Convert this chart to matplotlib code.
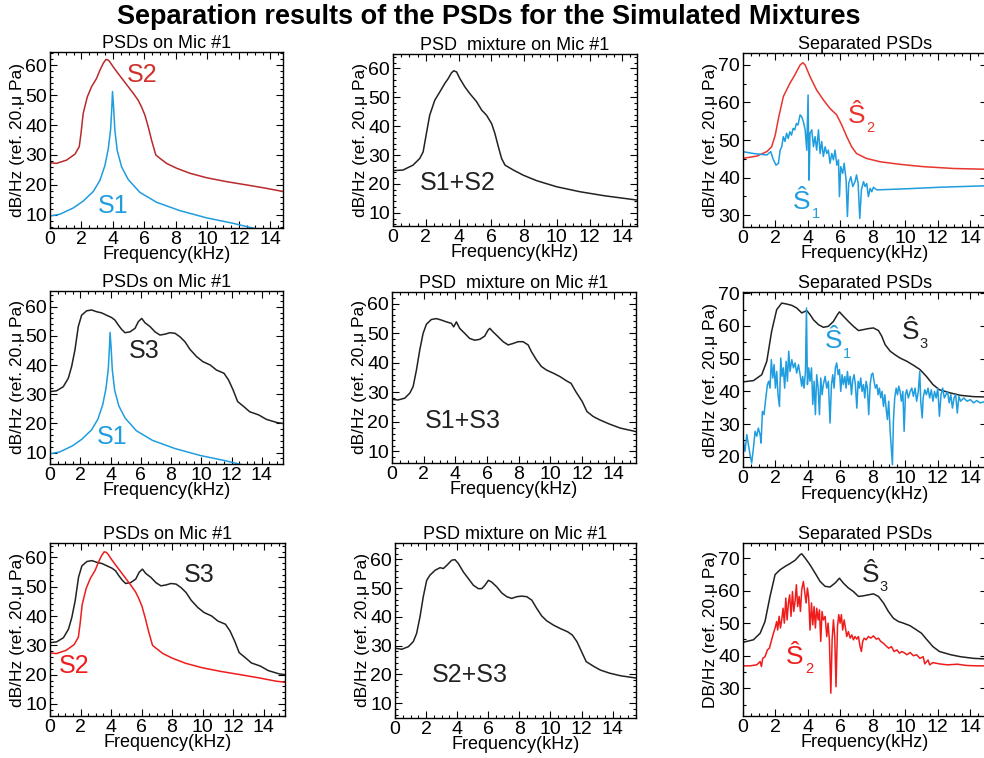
import matplotlib
matplotlib.use("Agg")
import matplotlib.pyplot as plt
import numpy as np
from matplotlib.ticker import MultipleLocator

plt.rcParams['font.family'] = ['Liberation Sans', 'DejaVu Sans']

# ---- data (kHz, dB) ----
# S1 : pure tone source on Mic #1
s1_freq = [0, 0.63, 1.48, 2.11, 2.75, 3.17, 3.49, 3.7, 3.85, 3.93, 3.97, 4.04, 4.12,
           4.27, 4.55, 4.97, 5.71, 6.77, 8.25, 9.94, 11.6, 12.8, 13.7, 15.4]
s1_db = [9.6, 10.2, 12.3, 14.6, 17.8, 21.5, 26.5, 32, 38.5, 46, 51.2, 46, 38.3,
         31.5, 26, 21.8, 17.5, 14.2, 11.4, 9.0, 7.2, 5.7, 4.6, 3.5]

# S2 : source 2 on Mic #1
s2_freq = [0, 0.42, 1.06, 1.59, 1.86, 1.97, 2.11, 2.37, 2.64, 2.96, 3.17, 3.38, 3.55, 3.7,
           3.8, 4.02, 4.33, 4.65, 4.97, 5.29, 5.6, 5.81, 6.03, 6.24, 6.45, 6.72, 6.98,
           7.4, 8.03, 8.88, 9.94, 11.2, 12.7, 13.7, 14.8, 15.4]
s2_db = [27.4, 27.2, 28.3, 30.3, 32.8, 37.2, 43.9, 49.4, 52.8, 55.6, 58.3, 60.6, 61.9, 61.7,
         61.1, 59.4, 57.2, 55, 52.8, 50.6, 48.3, 46.1, 43.3, 39.4, 35, 30, 28.9,
         27.2, 25.6, 23.9, 22.4, 21.1, 19.8, 18.9, 17.8, 17.4]

# S3 : source 3 on Mic #1
s3_freq = [0, 0.44, 0.88, 1.21, 1.43, 1.65, 1.87, 2.09, 2.42, 2.75, 3.08, 3.41, 3.74, 4.07,
           4.3, 4.52, 4.74, 4.96, 5.29, 5.62, 5.84, 6.06, 6.28, 6.61, 6.94, 7.27, 7.6,
           7.93, 8.26, 8.59, 8.92, 9.25, 9.69, 10.1, 10.6, 11.0, 11.5, 11.8, 12.1, 12.4,
           12.8, 13.2, 13.8, 14.3, 15.0, 15.4]
s3_db = [30.9, 31.2, 32.6, 35.5, 39.5, 45.2, 53.2, 57.1, 58.6, 58.9, 58.3, 57.9, 57.1, 56.3,
         55.4, 53.7, 52.2, 51.1, 51.4, 52.6, 54.9, 56, 54.5, 53.2, 51.4, 50.3, 50.6,
         51.1, 50.9, 49.7, 48, 45.4, 42.9, 41.2, 40, 38.3, 37.2, 34.9, 31.5, 27.5,
         25.8, 24, 22.9, 21.4, 20.3, 20]

# mixtures on Mic #1
mix12_freq = [0, 0.61, 1.22, 1.63, 1.84, 2.04, 2.24, 2.55, 2.86, 3.16, 3.37, 3.57, 3.71,
              3.88, 4.08, 4.39, 4.69, 5.1, 5.41, 5.71, 6.02, 6.22, 6.43, 6.63, 6.84, 7.35,
              7.96, 8.78, 10.0, 11.4, 12.9, 14.1, 14.9]
mix12_db = [24.6, 24.8, 26.5, 28.8, 31.1, 37.5, 43.8, 49, 51.9, 54.8, 56.5, 58.5, 59.2,
            58.8, 56.5, 53.6, 51.3, 48.5, 45.6, 43.8, 40.9, 37.5, 32.9, 28.8, 26.5, 24.8,
            23, 21.1, 19, 17.3, 15.9, 15, 14.4]

mix13_freq = [0, 0.38, 0.8, 1.12, 1.33, 1.54, 1.75, 1.96, 2.17, 2.48, 2.8, 3.12, 3.43, 3.75,
              3.89, 4.06, 4.27, 4.59, 4.9, 5.22, 5.54, 5.85, 6.06, 6.17, 6.38, 6.69, 7.01,
              7.33, 7.64, 7.96, 8.27, 8.59, 8.8, 9.12, 9.43, 9.75, 10.2, 10.6, 11.0, 11.3,
              11.6, 12.0, 12.3, 12.7, 13.1, 13.7, 14.4, 15.4]
mix13_db = [27.6, 27.4, 28, 29.7, 31.9, 37.5, 44.3, 49.9, 53, 54.6, 54.9, 54.4, 53.8, 53.3,
            52.1, 53.8, 51.6, 49.9, 48.2, 47.6, 47.9, 49, 51, 51.6, 50.4, 48.8, 47.1,
            46, 46.5, 47.1, 47.1, 46, 43.7, 40.9, 38.7, 37.5, 36.4, 35.3, 33.9, 33,
            30.2, 26.9, 23.5, 21.8, 20.7, 19.3, 17.9, 16.7]

mix23_freq = [0, 0.43, 0.86, 1.18, 1.39, 1.61, 1.82, 2.04, 2.25, 2.58, 2.9, 3.11, 3.33, 3.65,
              3.86, 4.08, 4.4, 4.72, 5.04, 5.36, 5.58, 5.79, 6.01, 6.22, 6.55, 6.87, 7.19,
              7.51, 7.83, 8.15, 8.48, 8.8, 9.12, 9.44, 9.76, 10.2, 10.6, 11.1, 11.4, 11.7,
              12.0, 12.3, 12.8, 13.2, 13.8, 14.5, 15.5]
mix23_db = [29.1, 28.7, 29.6, 31.4, 34.2, 40, 47, 52.7, 54.5, 56.2, 57.1, 56.8, 57.9, 59.7,
            59.9, 58.5, 55.6, 53.3, 51, 49.8, 49.8, 51, 52.7, 52.1, 50.4, 48.3, 47,
            46.4, 47, 47.2, 47, 45.8, 42.9, 40.3, 38.6, 37.1, 36, 34.8, 33.7, 31.4,
            27.9, 24.4, 22.7, 21.5, 20.4, 19.5, 18.7]

# separated PSDs, mixture S1+S2
sep12_s2_freq = [0, 0.86, 1.48, 1.78, 2.0, 2.2, 2.5, 2.9, 3.2, 3.53, 3.7, 3.84, 4.14, 4.55,
                 4.96, 5.37, 5.78, 6.09, 6.4, 6.7, 7.0, 7.6, 8.45, 9.7, 11.1, 13.0, 15.0]
sep12_s2_db = [45.1, 45.7, 46.9, 48.2, 51.3, 55.8, 61.6, 65.1, 67.3, 70.0, 70.6, 70, 66.9,
               63.3, 60.7, 58.4, 56.7, 54, 50.9, 48.2, 46.4, 45.1, 44.2, 43.5, 42.9, 42.4,
               42.2]
sep12_s1_freq = [0, 0.66, 1.48, 1.72, 1.89, 2.05, 2.2, 2.3, 2.4, 2.5, 2.6, 2.7, 2.8, 2.9,
                 3.0, 3.1, 3.2, 3.3, 3.4, 3.53, 3.63, 3.73, 3.84, 3.94, 4.02, 4.08, 4.14,
                 4.25, 4.35, 4.45, 4.55, 4.66, 4.76, 4.86, 4.96, 5.07, 5.17, 5.27, 5.37,
                 5.48, 5.58, 5.68, 5.79, 5.89, 5.95, 6.03, 6.15, 6.24, 6.36, 6.44, 6.52,
                 6.65, 6.77, 6.91, 7.0, 7.1, 7.2, 7.3, 7.43, 7.53, 7.63, 7.73, 7.84, 7.94,
                 8.04, 8.25, 10.1, 12.1, 15.0]
sep12_s1_db = [46.9, 46.4, 46, 46.9, 44.7, 43.3, 43.8, 47.3, 48.2, 50.9, 49.6, 51.8, 50.4,
               52.2, 51.3, 53.1, 52.7, 54.4, 54, 56.7, 56.2, 54.9, 52.7, 47.3, 62, 39.3,
               51.8, 52.7, 48.2, 50.9, 47.3, 52.7, 46.4, 49.6, 45.6, 48.2, 46.4, 47.3,
               43.8, 46.4, 44.7, 47.3, 43.3, 44.7, 34.9, 42.9, 41.1, 43.8, 39.3, 29.6,
               38.4, 40.2, 37.6, 38.9, 40.7, 38.4, 29.1, 36.7, 38.9, 37.6, 38.4, 34.9,
               37.1, 36.2, 37.4, 36.7, 37, 37.4, 37.8]

# separated PSDs, mixture S1+S3
sep13_s3_freq = [0, 0.66, 1.17, 1.48, 1.78, 2.09, 2.4, 2.71, 3.02, 3.32, 3.63, 3.94, 4.14,
                 4.35, 4.66, 4.96, 5.27, 5.58, 5.83, 5.95, 6.19, 6.5, 6.81, 7.12, 7.43,
                 7.73, 8.04, 8.35, 8.55, 8.76, 9.07, 9.37, 9.68, 10.1, 10.5, 10.9, 11.3,
                 11.7, 12.1, 12.8, 13.4, 14.2, 15.0]
sep13_s3_db = [42.9, 43.3, 45.1, 49.2, 58.4, 65, 67, 66.7, 66.3, 65.5, 64, 64.7, 63.5,
               61.9, 60.4, 59.6, 59.9, 61.4, 63.5, 64.3, 63, 61.4, 59.9, 58.6, 58.9,
               59.2, 59.4, 58.6, 56.9, 54.3, 52.3, 51.2, 50.2, 49.2, 48, 46.7, 44.6,
               42.1, 40.5, 39.5, 38.8, 38.4, 38.3]
sep13_s1_freq = [0, 0.14, 0.25, 0.35, 0.45, 0.55, 0.66, 0.76, 0.86, 0.96, 1.07, 1.13, 1.21,
                 1.31, 1.42, 1.52, 1.6, 1.68, 1.76, 1.85, 1.93, 2.01, 2.09, 2.17, 2.26,
                 2.34, 2.42, 2.5, 2.58, 2.67, 2.75, 2.83, 2.91, 3.02, 3.12, 3.22, 3.32,
                 3.43, 3.53, 3.63, 3.69, 3.77, 3.86, 3.92, 3.98, 4.06, 4.14, 4.23, 4.31,
                 4.39, 4.47, 4.55, 4.64, 4.72, 4.8, 4.88, 4.96, 5.07, 5.17, 5.27, 5.37,
                 5.46, 5.54, 5.62, 5.7, 5.78, 5.87, 5.95, 6.03, 6.11, 6.19, 6.28, 6.36,
                 6.44, 6.52, 6.61, 6.69, 6.77, 6.85, 6.93, 7.02, 7.1, 7.18, 7.26, 7.34,
                 7.43, 7.51, 7.59, 7.67, 7.75, 7.84, 7.92, 8.0, 8.08, 8.16, 8.25, 8.33,
                 8.41, 8.49, 8.57, 8.66, 8.74, 8.82, 8.9, 8.98, 9.07, 9.15, 9.21, 9.27,
                 9.35, 9.44, 9.52, 9.6, 9.68, 9.76, 9.85, 9.93, 10.01, 10.09, 10.19, 10.3,
                 10.4, 10.5, 10.6, 10.7, 10.8, 10.89, 10.95, 11.04, 11.1, 11.2, 11.3, 11.4,
                 11.5, 11.6, 11.7, 11.8, 11.9, 12.0, 12.1, 12.2, 12.3, 12.4, 12.6, 12.7,
                 12.8, 12.9, 13.0, 13.1, 13.2, 13.3, 13.4, 13.6, 13.8, 14.0, 14.2, 14.4,
                 14.6, 15.0]
sep13_s1_db = [25.8, 21.7, 26.8, 23.7, 20.7, 18.1, 22.7, 27.8, 26.3, 28.8, 26.8, 24.2, 33.9,
               32.9, 38, 42.1, 43.1, 41, 49.7, 44.1, 48.2, 41, 46.1, 39, 35.4,
               50.2, 44.6, 47.2, 41, 49.2, 43.1, 52.3, 46.1, 49.7, 47.2, 48.7, 45.6,
               48.2, 45.1, 41.6, 44.6, 41, 46.1, 65.5, 42.1, 47.2, 43.1, 47.2, 36,
               43.1, 32.9, 45.1, 41, 32.9, 44.1, 39, 42.1, 44.6, 41, 43.1, 30.3,
               42.1, 45.1, 41, 47.2, 48.7, 45.1, 46.7, 40, 45.1, 42.1, 44.6, 41,
               46.1, 42.1, 44.6, 39, 43.6, 45.1, 42.1, 34.9, 43.1, 41, 44.1, 40,
               42.1, 38, 43.1, 41, 32.9, 42.1, 45.1, 45.6, 43.1, 41, 42.1, 39,
               41, 38, 40, 35.4, 39, 34.9, 31.4, 37, 27.8, 21.7, 17.6, 30.9,
               38, 41, 39, 41.6, 40, 37, 40, 27.8, 39, 40.5, 38, 40,
               41, 38.5, 41, 37, 40, 46.1, 37, 31.9, 38, 40.5, 39, 41,
               38, 40.5, 37, 40, 38, 41, 32.4, 39, 41, 38, 40, 36.5,
               39, 34.9, 38, 39, 33.4, 38.5, 37, 38, 37, 37.5, 36.5, 37.2,
               36.5, 37]

# separated PSDs, mixture S2+S3
sep23_s3_freq = [0, 0.66, 1.07, 1.37, 1.68, 1.99, 2.3, 2.6, 2.91, 3.22, 3.53, 3.63, 3.84,
                 4.14, 4.45, 4.76, 5.07, 5.37, 5.68, 5.95, 6.19, 6.5, 6.81, 7.12, 7.43,
                 7.73, 8.04, 8.35, 8.66, 8.96, 9.27, 9.58, 9.89, 10.3, 10.7, 11.0, 11.3,
                 11.7, 12.1, 12.8, 13.4, 14.2, 15.0]
sep23_s3_db = [44.1, 44.9, 46.9, 50.5, 58.2, 64.9, 66.4, 67.4, 68.3, 69.3, 71, 71.3, 70,
               67.9, 65.4, 62.8, 61.3, 61.1, 62.3, 63.8, 62.3, 60.8, 59.7, 58.2, 58.4,
               58.7, 59, 58.2, 56.2, 53.6, 51.5, 50.5, 50, 49.2, 47.9, 46.9, 45.1,
               42.8, 41.3, 40.3, 39.7, 39.2, 39]
sep23_s2_freq = [0, 0.45, 0.86, 1.07, 1.15, 1.23, 1.37, 1.52, 1.64, 1.78, 1.89, 1.99, 2.09,
                 2.15, 2.24, 2.32, 2.4, 2.48, 2.56, 2.65, 2.73, 2.81, 2.89, 2.97, 3.06,
                 3.14, 3.22, 3.3, 3.38, 3.47, 3.55, 3.63, 3.73, 3.82, 3.9, 3.98, 4.06,
                 4.14, 4.23, 4.31, 4.39, 4.47, 4.55, 4.64, 4.72, 4.8, 4.88, 4.96, 5.07,
                 5.17, 5.25, 5.33, 5.42, 5.5, 5.58, 5.66, 5.74, 5.83, 5.91, 5.99, 6.07,
                 6.15, 6.24, 6.32, 6.4, 6.5, 6.61, 6.71, 6.81, 6.91, 7.02, 7.12, 7.22,
                 7.3, 7.38, 7.47, 7.59, 7.73, 7.88, 8.04, 8.21, 8.35, 8.49, 8.66, 8.82,
                 8.98, 9.15, 9.31, 9.48, 9.64, 9.8, 9.97, 10.1, 10.3, 10.5, 10.7, 10.9,
                 11.1, 11.2, 11.4, 11.5, 11.7, 12.1, 12.6, 13.2, 13.8, 14.4, 15.0]
sep23_s2_db = [36.9, 36.9, 37.2, 38.2, 36.7, 39.2, 39.7, 41.8, 42.3, 44.9, 46.9, 48.5, 50.5,
               47.9, 52.1, 48.5, 51, 54.6, 50, 57.7, 51, 56.2, 58.7, 52.1, 59.7,
               53.6, 56.7, 61.8, 55.1, 58.2, 53.6, 60.3, 62.8, 59.2, 56.2, 60.8, 57.7,
               47.9, 56.2, 49.5, 55.1, 48.5, 54.6, 51, 54.1, 44.4, 53.6, 51, 52.1,
               45.9, 50, 44.9, 28.5, 44.9, 51, 45.9, 30.5, 49, 52.6, 50, 52.6,
               47.9, 51, 48.5, 45.9, 47.4, 45.4, 46.4, 44.9, 45.9, 45.1, 45.9, 42.8,
               41.3, 44.4, 45.4, 44.9, 45.9, 45.4, 46.1, 45.1, 45.4, 44.4, 43.8, 43,
               42.3, 42.8, 41.3, 41.8, 40.8, 41.3, 40.8, 40.3, 41, 40, 40.3, 39.2,
               39.7, 37.5, 38.7, 37.2, 37.9, 37.5, 37.2, 37.4, 37, 36.9, 36.9]

BLUE = '#1f9ddf'
RED = '#e8352d'
DARKRED = '#b82a2c'
BRIGHTRED = '#f01c1c'
BLACK = '#222222'
YLAB = 'dB/Hz (ref. 20.\u03bc Pa)'


def style(ax, xlim, ylim, yticks, title, ylabel=YLAB, yminor=2):
    ax.set_xlim(xlim)
    ax.set_ylim(ylim)
    ax.set_xticks(np.arange(0, 15, 2))
    ax.set_yticks(yticks)
    ax.xaxis.set_minor_locator(MultipleLocator(0.5))
    ax.yaxis.set_minor_locator(MultipleLocator(yminor))
    ax.tick_params(which='both', direction='in', top=True, right=True, width=0.8)
    ax.tick_params(which='major', length=5)
    ax.tick_params(which='minor', length=2.5)
    ax.tick_params(axis='x', labelsize=14, pad=2)
    ax.tick_params(axis='y', labelsize=14, pad=2)
    for sp in ax.spines.values():
        sp.set_linewidth(1.0)
    ax.set_title(title, fontsize=13, pad=3)
    ax.set_xlabel('Frequency(kHz)', fontsize=13, labelpad=-1)
    ax.set_ylabel(ylabel, fontsize=12.5, labelpad=0)


def hat_label(ax, x, y, sub, color, size=19):
    ax.text(x, y, '\u015c', color=color, fontsize=size, ha='center', va='center')
    ax.annotate(sub, (x, y), xytext=(7, -9), textcoords='offset points', color=color,
                fontsize=size * 0.55, ha='left', va='center')


fig = plt.figure(figsize=(9.84, 7.58), dpi=100)
fig.text(0.497, 1 - 17 / 758, 'Separation results of the PSDs for the Simulated Mixtures',
         ha='center', va='center', fontsize=19.5, weight='bold')

# row 1
ax = fig.add_axes([0.0508, 0.6992, 0.2368, 0.2322])
ax.plot(s2_freq, s2_db, color=DARKRED, lw=1.1)
ax.plot(s1_freq, s1_db, color=BLUE, lw=1.1)
ax.text(4.85, 56.7, 'S2', color='#d0302c', fontsize=18, va='center')
ax.text(3.05, 12.8, 'S1', color=BLUE, fontsize=18, va='center')
style(ax, (0, 14.8), (5.6, 64.4), range(10, 61, 10), 'PSDs on Mic #1')

ax = fig.add_axes([0.3994, 0.7018, 0.2480, 0.2269])
ax.plot(mix12_freq, mix12_db, color=BLACK, lw=1.1)
ax.text(1.63, 20.2, 'S1+S2', color=BLACK, fontsize=18, va='center')
style(ax, (0, 14.9), (5.4, 65), range(10, 61, 10), 'PSD  mixture on Mic #1')

ax = fig.add_axes([0.7548, 0.7005, 0.2478, 0.2296])
ax.plot(sep12_s2_freq, sep12_s2_db, color=RED, lw=1.1)
ax.plot(sep12_s1_freq, sep12_s1_db, color=BLUE, lw=1.1)
hat_label(ax, 7.0, 56.5, '2', RED)
hat_label(ax, 3.63, 33.6, '1', BLUE)
style(ax, (0, 15), (26.8, 73.2), range(30, 71, 10), 'Separated PSDs', yminor=5)

# row 2
ax = fig.add_axes([0.0508, 0.3879, 0.2368, 0.2282])
ax.plot(s3_freq, s3_db, color=BLACK, lw=1.1)
ax.plot(s1_freq, s1_db, color=BLUE, lw=1.1)
ax.text(5.18, 44.9, 'S3', color=BLACK, fontsize=18, va='center')
ax.text(3.08, 15.3, 'S1', color=BLUE, fontsize=18, va='center')
style(ax, (0, 15.4), (6.1, 65.4), range(10, 61, 10), 'PSDs on Mic #1')

ax = fig.add_axes([0.3984, 0.3892, 0.2480, 0.2256])
ax.plot(mix13_freq, mix13_db, color=BLACK, lw=1.1)
ax.text(2.06, 20.4, 'S1+S3', color=BLACK, fontsize=18, va='center')
style(ax, (0, 15.4), (6.1, 63.9), range(10, 61, 10), 'PSD  mixture on Mic #1')

ax = fig.add_axes([0.7548, 0.3835, 0.2478, 0.2309])
ax.plot(sep13_s3_freq, sep13_s3_db, color=BLACK, lw=1.1)
ax.plot(sep13_s1_freq, sep13_s1_db, color=BLUE, lw=1.1)
hat_label(ax, 5.58, 55.3, '1', BLUE)
hat_label(ax, 10.3, 58.2, '3', BLACK)
style(ax, (0, 15), (16.8, 70.3), range(20, 71, 10), 'Separated PSDs', yminor=5)

# row 3
ax = fig.add_axes([0.0508, 0.0554, 0.2388, 0.2282])
ax.plot(s3_freq, s3_db, color=BLACK, lw=1.1)
ax.plot(s2_freq, s2_db, color=BRIGHTRED, lw=1.1)
ax.text(8.75, 54.1, 'S3', color=BLACK, fontsize=18, va='center')
ax.text(0.55, 23.1, 'S2', color=BRIGHTRED, fontsize=18, va='center')
style(ax, (0, 15.4), (5.9, 64.9), range(10, 61, 10), 'PSDs on Mic #1')

ax = fig.add_axes([0.4014, 0.0528, 0.2449, 0.2309])
ax.plot(mix23_freq, mix23_db, color=BLACK, lw=1.1)
ax.text(2.36, 19.8, 'S2+S3', color=BLACK, fontsize=18, va='center')
style(ax, (0, 15.5), (4.8, 65.7), range(10, 61, 10), 'PSD mixture on Mic #1')

ax = fig.add_axes([0.7548, 0.0554, 0.2478, 0.2282])
ax.plot(sep23_s3_freq, sep23_s3_db, color=BLACK, lw=1.1)
ax.plot(sep23_s2_freq, sep23_s2_db, color=BRIGHTRED, lw=1.1)
hat_label(ax, 7.84, 64.8, '3', BLACK)
hat_label(ax, 3.22, 39.7, '2', BRIGHTRED)
style(ax, (0, 15), (21.5, 74.6), range(30, 71, 10), 'Separated PSDs',
      ylabel='DB/Hz (ref. 20.\u03bc Pa)', yminor=5)

fig.savefig('out.png', dpi=100)
